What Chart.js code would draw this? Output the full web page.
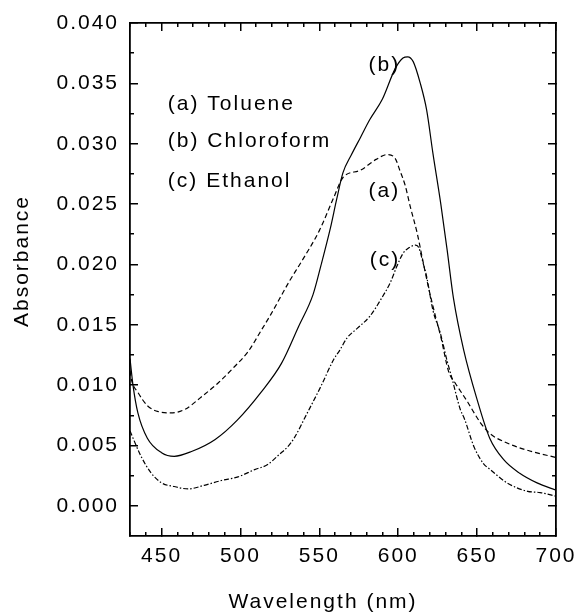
<!DOCTYPE html>
<html>
<head>
<meta charset="utf-8">
<script src="https://cdn.jsdelivr.net/npm/chart.js@4.4.1/dist/chart.umd.min.js"></script>
<style>
  html, body { margin: 0; padding: 0; background: #fff; }
  canvas { display: block; }
</style>
</head>
<body>
<canvas id="spectra" width="577" height="613"></canvas>
<script>
// (a) Toluene - dashed
const tolueneNm = [430, 431, 435, 441, 448, 456, 465, 475, 486, 496, 505, 513, 519, 531, 539, 550, 559, 565, 576, 586, 593, 598, 601, 604.5, 607.6, 612, 615, 619, 624, 627, 632, 636, 644, 652, 658, 669, 682, 700];
const tolueneAbs = [0.0112, 0.0104, 0.0094, 0.0083, 0.0078, 0.0077, 0.0080, 0.0090, 0.0102, 0.0115, 0.0128, 0.0145, 0.0158, 0.0186, 0.0203, 0.0228, 0.0255, 0.0272, 0.0278, 0.0287, 0.0291, 0.0288, 0.0278, 0.0265, 0.0248, 0.0226, 0.0207, 0.0182, 0.0155, 0.0140, 0.0111, 0.0102, 0.0086, 0.0069, 0.0060, 0.0052, 0.0046, 0.0040];

// (b) Chloroform - solid
const chloroformNm = [430, 432, 435, 441, 450, 458, 469, 484, 498, 513, 526, 537, 546, 551, 557, 561, 565, 570, 576, 582, 590, 598, 603, 606, 609.5, 614, 618, 622, 627, 631, 635, 641.5, 650, 658, 667, 677, 688, 700];
const chloroformAbs = [0.0122, 0.0099, 0.0077, 0.0056, 0.0044, 0.0041, 0.0045, 0.0055, 0.0071, 0.0094, 0.0118, 0.0149, 0.0175, 0.0199, 0.0230, 0.0254, 0.0276, 0.0290, 0.0305, 0.0320, 0.0337, 0.0362, 0.0371, 0.0372, 0.0368, 0.0350, 0.0328, 0.0292, 0.0250, 0.0212, 0.0172, 0.0129, 0.0088, 0.0056, 0.0038, 0.0027, 0.0019, 0.0013];

// (c) Ethanol - dash-dot
const ethanolNm = [430, 437, 443.5, 450, 458, 467, 477, 488, 498.5, 509, 517, 525, 530, 534, 542, 551, 559, 563, 567.5, 574, 582, 589, 595, 599, 603, 607, 611, 613, 616, 618, 622, 626.7, 631, 634, 639.3, 642, 648, 654, 658.4, 669, 682, 690, 700];
const ethanolAbs = [0.0062, 0.0041, 0.0027, 0.0019, 0.0016, 0.0014, 0.0017, 0.0021, 0.0024, 0.0030, 0.0034, 0.0043, 0.0049, 0.0056, 0.0076, 0.0099, 0.0121, 0.0129, 0.0139, 0.0147, 0.0157, 0.0171, 0.0185, 0.0198, 0.0209, 0.0214, 0.0216, 0.0214, 0.0200, 0.0190, 0.0162, 0.0143, 0.0120, 0.0106, 0.0080, 0.0072, 0.0049, 0.0035, 0.0030, 0.0019, 0.0012, 0.0011, 0.0008];

// axis ticks
const xMajorTicks = [450, 500, 550, 600, 650, 700];
const xMinorTicks = [430, 440, 460, 470, 480, 490, 510, 520, 530, 540, 560, 570, 580, 590, 610, 620, 630, 640, 660, 670, 680, 690];
const yMajorTicks = [0.000, 0.005, 0.010, 0.015, 0.020, 0.025, 0.030, 0.035, 0.040];
const yMinorTicks = [0.0025, 0.0075, 0.0125, 0.0175, 0.0225, 0.0275, 0.0325, 0.0375];

// text on the plot
const legendLines = ['(a) Toluene', '(b) Chloroform', '(c) Ethanol'];
const legendAt = { nm: 454, abs: [0.0328, 0.0297, 0.0264] };
const peakLabels = ['(a)', '(b)', '(c)'];
const peakAt = { nm: 601.3, abs: [0.0256, 0.0360, 0.0199] };

const FONT = "'Liberation Sans', Arial, sans-serif";

function toPoints(nm, abs) {
  return nm.map((v, i) => ({ x: v, y: abs[i] }));
}

function setTicks(list) {
  return scale => { scale.ticks = list.map(v => ({ value: v })); };
}

// fixed box size, and no extra room asked for the end labels
function fixSize(w, h) {
  return s => {
    if (w !== null) s.width = w;
    if (h !== null) s.height = h;
    s.paddingTop = s.paddingBottom = s.paddingLeft = s.paddingRight = 0;
  };
}

// one axis per side for major ticks, one with zero size for minor ticks
function sideAxis(pos, list, len, opts) {
  const horizontal = pos === 'top' || pos === 'bottom';
  return Object.assign({
    type: 'linear',
    position: pos,
    min: horizontal ? 430 : -0.0025,
    max: horizontal ? 700 : 0.040,
    weight: 0,
    afterBuildTicks: setTicks(list),
    afterFit: horizontal ? fixSize(null, 0) : fixSize(0, null),
    grid: { drawOnChartArea: false, tickLength: -len, color: '#000', tickColor: '#000', lineWidth: 1.5 },
    border: { display: false },
    ticks: { display: false },
  }, opts);
}

const textPlugin = {
  id: 'spectraText',
  beforeDraw(chart) {
    chart.ctx.letterSpacing = '2px';
  },
  afterDraw(chart) {
    const { ctx, chartArea, scales } = chart;
    const x = scales.x;
    const y = scales.y;
    ctx.save();
    ctx.fillStyle = '#000';
    ctx.font = '21px ' + FONT;
    ctx.textBaseline = 'alphabetic';

    ctx.textAlign = 'left';
    legendLines.forEach((t, i) => {
      ctx.fillText(t, x.getPixelForValue(legendAt.nm), y.getPixelForValue(legendAt.abs[i]));
    });

    ctx.textAlign = 'right';
    peakLabels.forEach((t, i) => {
      ctx.fillText(t, x.getPixelForValue(peakAt.nm), y.getPixelForValue(peakAt.abs[i]));
    });

    // axis titles
    ctx.textAlign = 'center';
    ctx.fillText('Wavelength (nm)', chartArea.left + 193, chartArea.bottom + 72);
    ctx.translate(28, chartArea.top + 238);
    ctx.rotate(-Math.PI / 2);
    ctx.fillText('Absorbance', 0, 0);
    ctx.restore();
  }
};

const lineStyle = {
  borderColor: '#000',
  backgroundColor: '#000',
  borderWidth: 1.2,
  pointRadius: 0,
  fill: false,
  cubicInterpolationMode: 'monotone',
};

new Chart(document.getElementById('spectra').getContext('2d'), {
  type: 'line',
  data: {
    datasets: [
      Object.assign({ label: 'Toluene', data: toPoints(tolueneNm, tolueneAbs), borderDash: [5, 3] }, lineStyle),
      Object.assign({ label: 'Chloroform', data: toPoints(chloroformNm, chloroformAbs) }, lineStyle),
      Object.assign({ label: 'Ethanol', data: toPoints(ethanolNm, ethanolAbs), borderDash: [5, 2, 1.5, 2] }, lineStyle),
    ],
  },
  options: {
    responsive: false,
    animation: false,
    layout: { padding: { left: 0, right: 21, top: 23, bottom: 0 } },
    plugins: {
      legend: { display: false },
      tooltip: { enabled: false },
    },
    scales: {
      x: {
        type: 'linear',
        position: 'bottom',
        min: 430,
        max: 700,
        weight: 1,
        afterBuildTicks: setTicks(xMajorTicks),
        afterFit: fixSize(null, 77),
        grid: { drawOnChartArea: false, tickLength: -8, color: '#000', tickColor: '#000', lineWidth: 1.5 },
        border: { display: true, color: '#000', width: 1.8 },
        ticks: {
          color: '#000',
          font: { family: FONT, size: 21 },
          padding: 16,
          maxRotation: 0,
          autoSkip: false,
          callback: v => String(v),
        },
      },
      xMinor: sideAxis('bottom', xMinorTicks, 4),
      xTop: sideAxis('top', xMajorTicks, 8, { border: { display: true, color: '#000', width: 1.8 } }),
      xTopMinor: sideAxis('top', xMinorTicks, 4),
      y: {
        type: 'linear',
        position: 'left',
        min: -0.0025,
        max: 0.040,
        weight: 1,
        afterBuildTicks: setTicks(yMajorTicks),
        afterFit: fixSize(130, null),
        grid: { drawOnChartArea: false, tickLength: -8, color: '#000', tickColor: '#000', lineWidth: 1.5 },
        border: { display: true, color: '#000', width: 1.8 },
        ticks: {
          color: '#000',
          font: { family: FONT, size: 21 },
          padding: 19,
          callback: v => v.toFixed(3),
        },
      },
      yMinor: sideAxis('left', yMinorTicks, 4),
      yRight: sideAxis('right', yMajorTicks, 8, { border: { display: true, color: '#000', width: 1.8 } }),
      yRightMinor: sideAxis('right', yMinorTicks, 4),
    },
  },
  plugins: [textPlugin],
});
</script>
</body>
</html>
